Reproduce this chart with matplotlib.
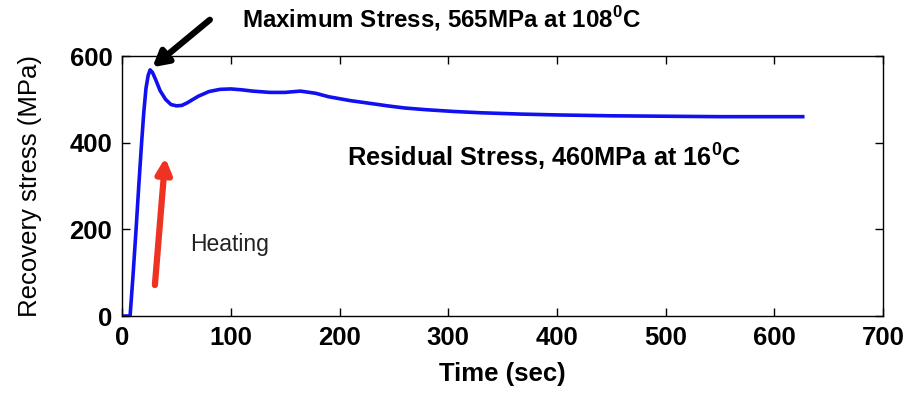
import matplotlib
matplotlib.use("Agg")
import matplotlib.pyplot as plt

plt.rcParams['font.family'] = ['Liberation Sans', 'DejaVu Sans']
plt.rcParams['mathtext.fontset'] = 'custom'
plt.rcParams['mathtext.rm'] = 'Liberation Sans'
plt.rcParams['mathtext.bf'] = 'Liberation Sans:bold'

time_s = [0, 4, 7.4, 10, 12.9, 15.5, 18, 20, 22, 24, 25.8, 28, 31, 35, 40, 45, 50, 55, 60,
          70, 80, 90, 100, 110, 120, 136, 150, 164, 178, 190, 210, 230, 244, 260, 280,
          305, 330, 366, 400, 450, 500, 550, 600, 626]
stress = [0, 0, 0, 90, 200, 305, 400, 470, 525, 555, 568, 562, 545, 520, 500, 488, 485, 486, 492,
          507, 518, 523, 524, 522, 519, 516, 516, 519, 514, 506, 497, 490, 485, 480, 476,
          472, 469, 466, 464, 462, 461, 460, 460, 460]

x_ticks = [0, 100, 200, 300, 400, 500, 600, 700]
y_ticks = [0, 200, 400, 600]

fig = plt.figure(figsize=(9.04, 4.0), dpi=100)
ax = fig.add_axes([0.135, 0.21, 0.842, 0.65])
ax.plot(time_s, stress, color='#1010f0', lw=2.6)
ax.set_xlim(0, 700)
ax.set_ylim(0, 600)
ax.set_xticks(x_ticks)
ax.set_yticks(y_ticks)
ax.tick_params(direction='in', top=True, right=True, length=6, width=1,
               labelsize=18.5, pad=7)
for lab in ax.get_xticklabels() + ax.get_yticklabels():
    lab.set_fontweight('bold')
for sp in ax.spines.values():
    sp.set_linewidth(1.0)
ax.set_xlabel('Time (sec)', fontsize=18.5, fontweight='bold', labelpad=9)
ax.set_ylabel('Recovery stress (MPa)', fontsize=18.5, labelpad=20)

fig.text(242/904, 1 - 19/400, r'Maximum Stress, 565MPa at 108$^\mathbf{0}$C', fontsize=17.4,
         fontweight='bold', ha='left', va='center')
ax.annotate('', xy=(26, 570), xycoords='data', xytext=(212/904, 1 - 18/400),
            textcoords='figure fraction',
            arrowprops=dict(arrowstyle='-|>,head_length=0.9,head_width=0.5', color='black', lw=4.5))

ax.text(207, 365, r'Residual Stress, 460MPa at 16$^\mathbf{0}$C', fontsize=18.3, fontweight='bold',
        ha='left', va='center')
ax.text(63, 165, 'Heating', fontsize=16.5, ha='left', va='center', color='#222222')
ax.annotate('', xy=(40, 372), xytext=(30, 65),
            arrowprops=dict(arrowstyle='-|>,head_length=0.9,head_width=0.45', color='#ee3322', lw=4.5))

fig.savefig('out.png', dpi=100, facecolor='white')
